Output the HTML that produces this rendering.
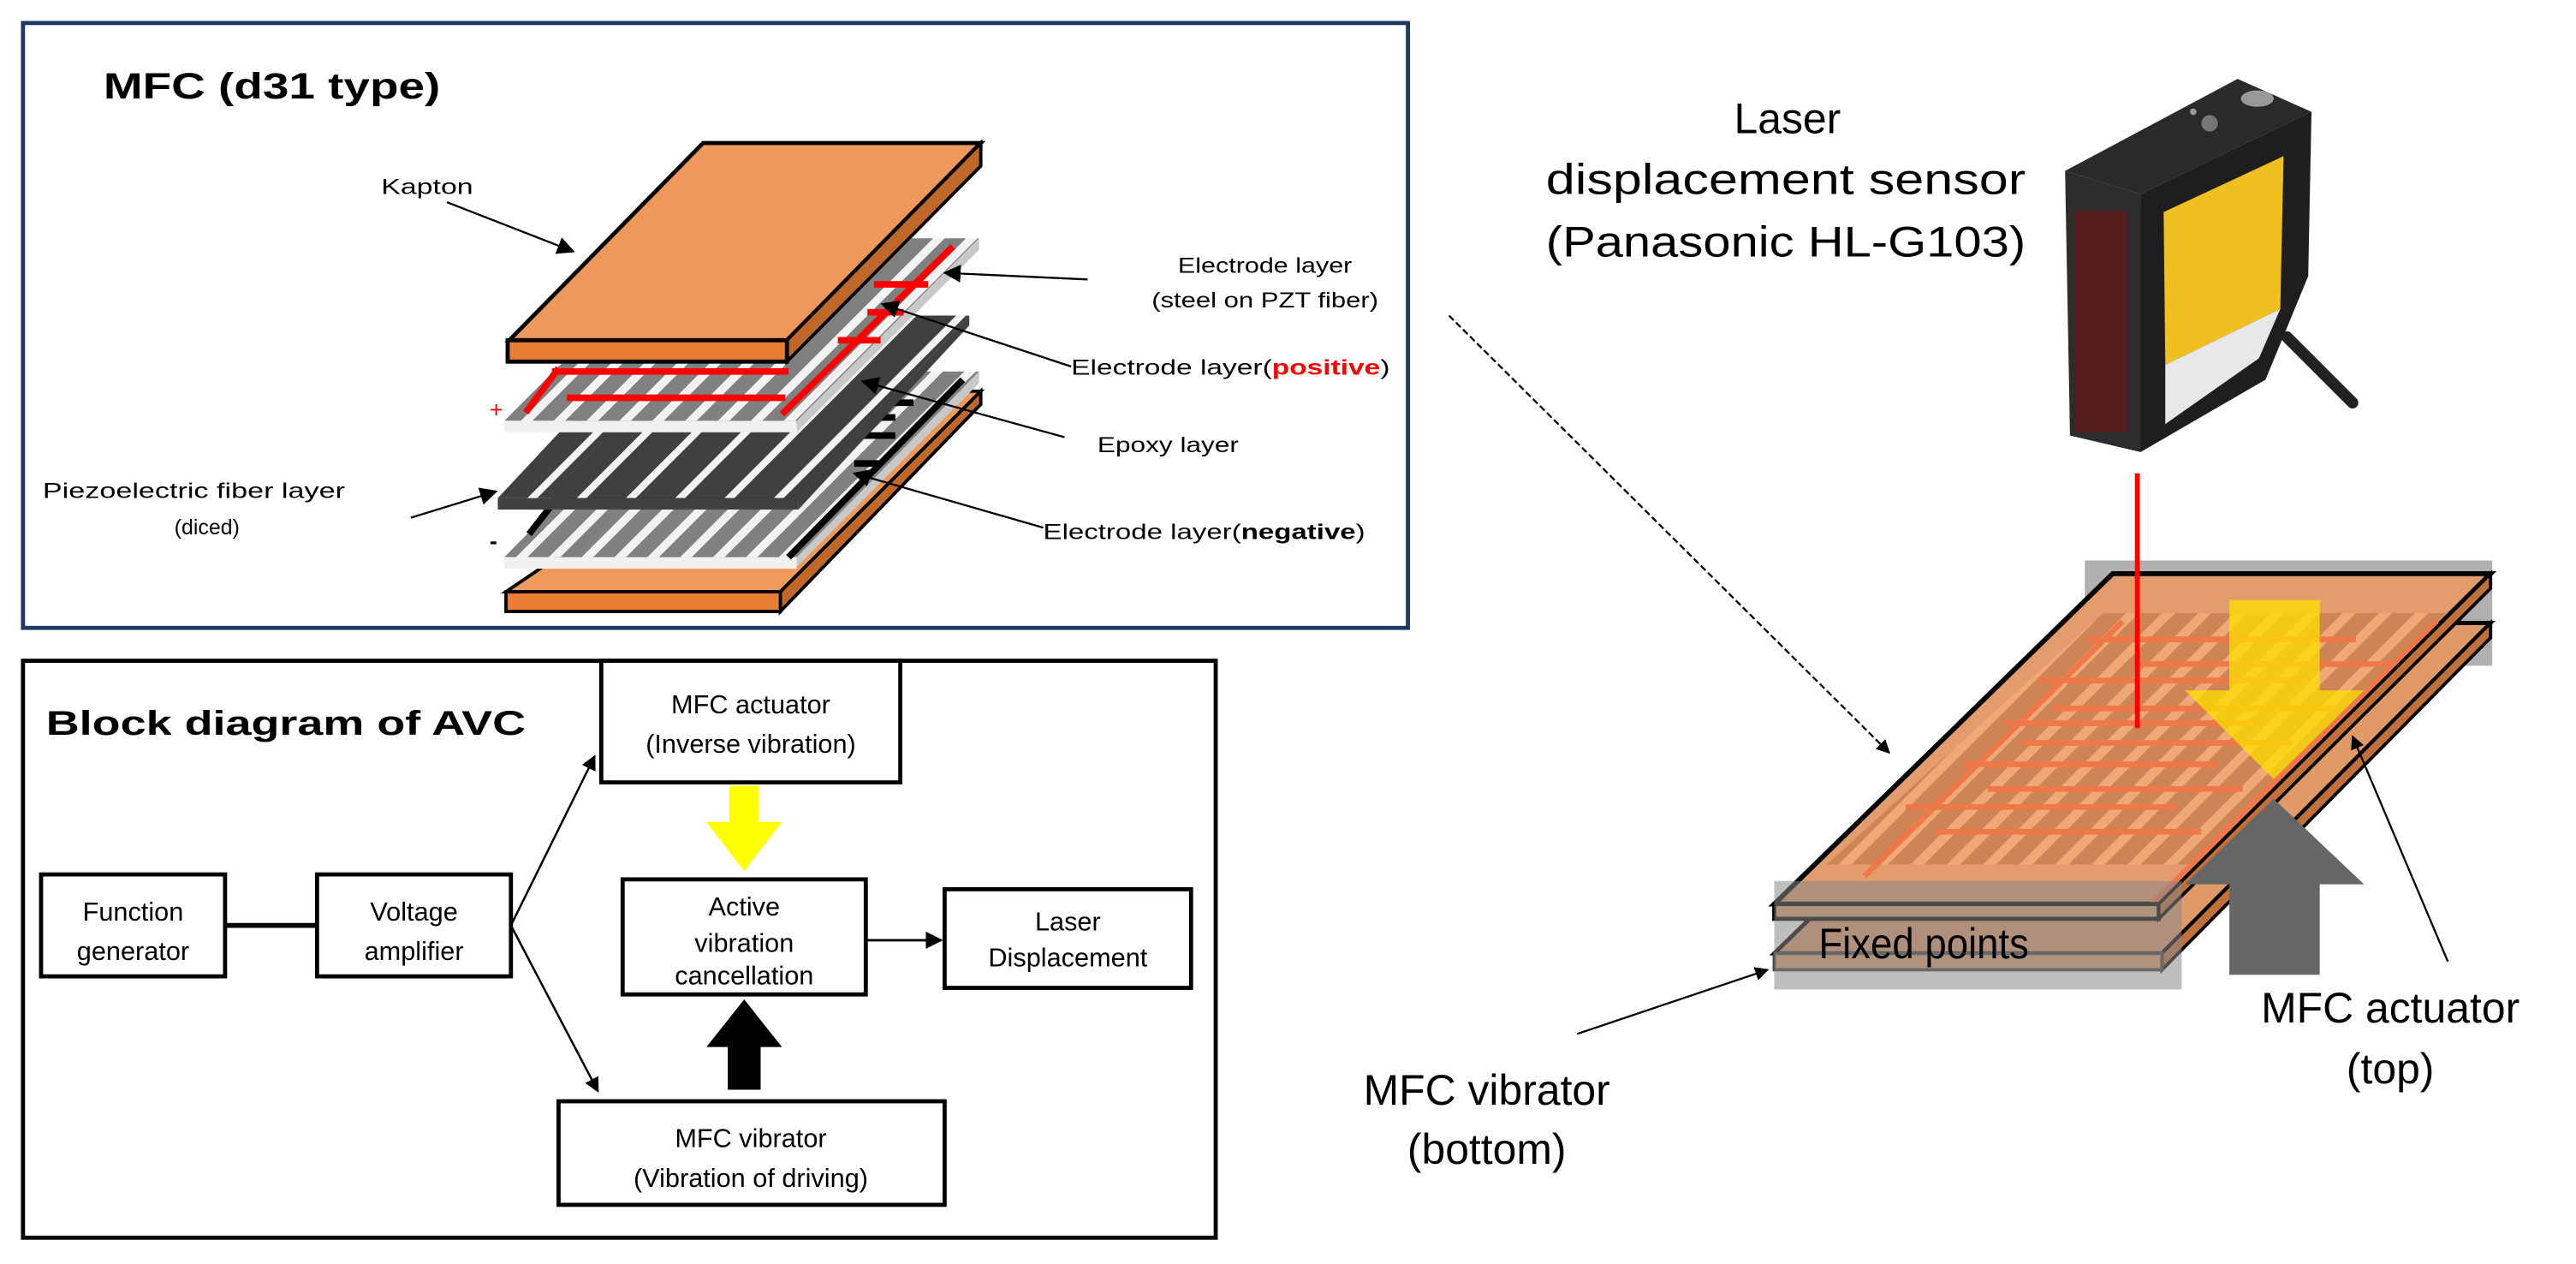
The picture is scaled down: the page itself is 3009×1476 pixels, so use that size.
<!DOCTYPE html>
<html><head><meta charset="utf-8"><style>
html,body{margin:0;padding:0;background:#fff;}
svg{display:block;}
text{font-family:"Liberation Sans","DejaVu Sans",sans-serif;}
</style></head><body>
<svg width="3009" height="1476" viewBox="0 0 1568 769" preserveAspectRatio="none" xmlns="http://www.w3.org/2000/svg">
<defs>
<pattern id="elec" width="20" height="40" patternUnits="userSpaceOnUse" patternTransform="skewX(-45)">
<rect width="20" height="40" fill="#f2f2f2"/><rect width="13" height="40" fill="#808080"/></pattern>
<pattern id="fib" width="30" height="40" patternUnits="userSpaceOnUse" patternTransform="skewX(-45)">
<rect width="30" height="40" fill="#f2f2f2"/><rect width="24" height="40" fill="#404040"/></pattern>
<pattern id="pl" width="22" height="40" patternUnits="userSpaceOnUse" patternTransform="skewX(-45) translate(3,0)">
<rect width="22" height="40" fill="#cd8455"/><rect x="14" width="8" height="40" fill="#f0aa78"/></pattern>
<marker id="ar" viewBox="0 0 10 10" refX="9" refY="5" markerWidth="7" markerHeight="7" orient="auto"><path d="M0,0L10,5L0,10z" fill="#000"/></marker>
<marker id="ars" viewBox="0 0 10 10" refX="9" refY="5" markerWidth="9" markerHeight="9" orient="auto"><path d="M0,0L10,5L0,10z" fill="#000"/></marker>
<filter id="glow" x="-5" y="-1" width="11" height="3"><feGaussianBlur stdDeviation="3"/></filter>
</defs>

<!-- TOP BOX -->
<rect x="14" y="14" width="843" height="368" fill="#fff" stroke="#1f3864" stroke-width="2.5"/>
<text x="63" y="60" font-size="22" font-weight="bold" textLength="205" lengthAdjust="spacingAndGlyphs">MFC  (d31 type)</text>

<!-- bottom kapton -->
<polygon points="488,238 597,238 475,360 308,360 " fill="#ee9a5c" stroke="#000" stroke-width="2"/>
<polygon points="597,238 597,246 475,372 475,360" fill="#c0682a" stroke="#000" stroke-width="2"/>
<rect x="308" y="360" width="167" height="12" fill="#ea7d33" stroke="#000" stroke-width="2"/>

<!-- negative electrode layer -->
<polygon points="418,226 596,226 485,339 307,339" fill="url(#elec)"/>
<polygon points="596,226 596,233 485,345 485,339" fill="#c8c8c8"/>
<rect x="307" y="339" width="178" height="7" fill="#f0f0f0"/>
<g stroke="#000" stroke-width="4" fill="none">
<polyline points="586,231 480,339"/>
<line x1="343" y1="304" x2="482" y2="304"/>
<line x1="343" y1="293" x2="478" y2="293"/>
<line x1="340" y1="302" x2="322" y2="325"/>
<line x1="505" y1="265" x2="545" y2="265"/><line x1="525" y1="245" x2="556" y2="245"/>
<line x1="520" y1="282" x2="535" y2="282"/><line x1="532" y1="254" x2="545" y2="254"/>
</g>
<text x="298" y="334" font-size="14" font-weight="bold">-</text>

<!-- fiber layer -->
<polygon points="407,192 590,192 486,303 303,303" fill="url(#fib)"/>
<polygon points="303,303 486,303 486,310 303,310" fill="#404040"/>
<polygon points="590,192 590,198 486,310 486,303" fill="#404040"/>

<!-- positive electrode layer -->
<polygon points="418,145 596,145 485,256 307,256" fill="url(#elec)"/>
<polygon points="596,145 596,152 485,263 485,256" fill="#c8c8c8"/>
<rect x="307" y="256" width="178" height="7" fill="#f0f0f0"/>
<g stroke="#ff0000" stroke-width="4" fill="none">
<line x1="580" y1="150" x2="476" y2="252"/>
<line x1="336" y1="226" x2="480" y2="226"/>
<line x1="345" y1="242" x2="478" y2="242"/>
<line x1="340" y1="224" x2="320" y2="251"/>
<line x1="528" y1="190" x2="550" y2="190"/>
<line x1="510" y1="207" x2="536" y2="207"/>
<line x1="532" y1="173" x2="565" y2="173"/>
</g>
<text x="298" y="254" font-size="14" fill="#ff0000">+</text>

<!-- top kapton -->
<polygon points="428,87 597,87 479,207 310,207" fill="#ee985c" stroke="#000" stroke-width="2.5"/>
<polygon points="597,87 597,101 479,220 479,207" fill="#c0682a" stroke="#000" stroke-width="2"/>
<rect x="309" y="207" width="170" height="13" fill="#ea7d33" stroke="#000" stroke-width="2.5"/>

<!-- labels top -->
<text x="232" y="118" font-size="13" textLength="56" lengthAdjust="spacingAndGlyphs">Kapton</text>
<line x1="272" y1="123" x2="349" y2="153" stroke="#000" stroke-width="1.2" marker-end="url(#ars)"/>
<text x="770" y="166" font-size="13" text-anchor="middle" textLength="106" lengthAdjust="spacingAndGlyphs">Electrode layer</text>
<text x="770" y="187" font-size="13" text-anchor="middle" textLength="138" lengthAdjust="spacingAndGlyphs">(steel on PZT fiber)</text>
<line x1="662" y1="170" x2="575" y2="166" stroke="#000" stroke-width="1.2" marker-end="url(#ars)"/>
<text x="652" y="228" font-size="13" textLength="194" lengthAdjust="spacingAndGlyphs">Electrode layer(<tspan fill="#ff0000" font-weight="bold">positive</tspan>)</text>
<line x1="652" y1="223" x2="537" y2="185" stroke="#000" stroke-width="1.2" marker-end="url(#ars)"/>
<text x="668" y="275" font-size="13" textLength="86" lengthAdjust="spacingAndGlyphs">Epoxy layer</text>
<line x1="648" y1="266" x2="525" y2="232" stroke="#000" stroke-width="1.2" marker-end="url(#ars)"/>
<text x="118" y="303" font-size="13" text-anchor="middle" textLength="184" lengthAdjust="spacingAndGlyphs">Piezoelectric fiber layer</text>
<text x="126" y="325" font-size="13" text-anchor="middle">(diced)</text>
<line x1="250" y1="315" x2="302" y2="299" stroke="#000" stroke-width="1.2" marker-end="url(#ars)"/>
<text x="635" y="328" font-size="13" textLength="196" lengthAdjust="spacingAndGlyphs">Electrode layer(<tspan font-weight="bold">negative</tspan>)</text>
<line x1="635" y1="321" x2="520" y2="288" stroke="#000" stroke-width="1.2" marker-end="url(#ars)"/>

<!-- BOTTOM BOX -->
<rect x="14" y="402" width="726" height="351" fill="#fff" stroke="#000" stroke-width="2.5"/>
<text x="28" y="447" font-size="21" font-weight="bold" textLength="292" lengthAdjust="spacingAndGlyphs">Block diagram  of AVC</text>
<g fill="#fff" stroke="#000" stroke-width="2.5">
<rect x="25" y="532" width="112" height="62"/>
<rect x="193" y="532" width="118" height="62"/>
<rect x="366" y="402" width="182" height="74"/>
<rect x="379" y="535" width="148" height="70"/>
<rect x="575" y="541" width="150" height="60"/>
<rect x="340" y="670" width="235" height="63"/>
</g>
<g font-size="16" text-anchor="middle">
<text x="81" y="560">Function</text><text x="81" y="584">generator</text>
<text x="252" y="560">Voltage</text><text x="252" y="584">amplifier</text>
<text x="457" y="434">MFC actuator</text><text x="457" y="458">(Inverse vibration)</text>
<text x="453" y="557">Active</text><text x="453" y="579">vibration</text><text x="453" y="599">cancellation</text>
<text x="650" y="566">Laser</text><text x="650" y="588">Displacement</text>
<text x="457" y="698">MFC vibrator</text><text x="457" y="722">(Vibration of driving)</text>
</g>
<line x1="137" y1="563" x2="193" y2="563" stroke="#000" stroke-width="3"/>
<line x1="311" y1="563" x2="362" y2="460" stroke="#000" stroke-width="1.3" marker-end="url(#ar)"/>
<line x1="311" y1="563" x2="364" y2="664" stroke="#000" stroke-width="1.3" marker-end="url(#ar)"/>
<line x1="527" y1="572" x2="573" y2="572" stroke="#000" stroke-width="1.5" marker-end="url(#ar)"/>
<polygon points="444,478 462,478 462,500 476,500 453,530 430,500 444,500" fill="#ffff00"/>
<polygon points="453,608 476,637 463,637 463,663 443,663 443,637 430,637" fill="#000"/>

<!-- RIGHT SIDE -->
<g font-size="26" text-anchor="middle">
<text x="1088" y="81">Laser</text>
<text x="1087" y="118" textLength="292" lengthAdjust="spacingAndGlyphs">displacement sensor</text>
<text x="1087" y="156" textLength="292" lengthAdjust="spacingAndGlyphs">(Panasonic HL-G103)</text>
</g>
<!-- sensor -->
<path d="M1392,205 L1432,245" stroke="#222" stroke-width="7" stroke-linecap="round"/>
<polygon points="1257,104 1362,48 1407,68 1303,118" fill="#2a2a2a"/>
<polygon points="1303,118 1407,68 1405,168 1379,231 1303,275" fill="#1e1e1e"/>
<polygon points="1257,104 1303,118 1303,275 1260,265" fill="#2c2c2c"/>
<rect x="1263" y="128" width="32" height="135" fill="#5a1c1c" opacity="0.9"/>
<polygon points="1317,129 1390,95 1388,188 1318,222" fill="#f0c020"/>
<polygon points="1318,222 1388,188 1375,218 1318,258" fill="#e8e8e8"/>
<circle cx="1345" cy="75" r="5" fill="#777"/><circle cx="1335" cy="68" r="2" fill="#999"/>
<ellipse cx="1374" cy="60" rx="10" ry="5" fill="#999"/>

<!-- plates -->
<polygon points="1269,341 1517,341 1517,405 1269,405" fill="#b0b0b0"/>
<polygon points="1286,379 1516,379 1316,580 1080,580" fill="#e09a68" stroke="#000" stroke-width="2.5"/>
<polygon points="1516,379 1516,388 1316,590 1316,580" fill="#c07038" stroke="#000" stroke-width="2"/>
<rect x="1080" y="580" width="236" height="10" fill="#e0a070" stroke="#444" stroke-width="2"/>
<polygon points="1286,349 1516,349 1314,550 1080,550" fill="#e39c6c" stroke="#000" stroke-width="3"/>
<polygon points="1280,373 1489,373 1335,526 1112,526" fill="url(#pl)" opacity="0.95"/>
<g stroke="#f07848" stroke-width="3.5">
<line x1="1270" y1="389" x2="1434" y2="389"/><line x1="1300" y1="404" x2="1460" y2="404"/>
<line x1="1240" y1="414" x2="1405" y2="414"/><line x1="1250" y1="431" x2="1420" y2="431"/>
<line x1="1220" y1="440" x2="1380" y2="440"/><line x1="1230" y1="452" x2="1395" y2="452"/>
<line x1="1195" y1="465" x2="1350" y2="465"/><line x1="1210" y1="480" x2="1365" y2="480"/>
<line x1="1160" y1="491" x2="1325" y2="491"/><line x1="1178" y1="506" x2="1340" y2="506"/>
<line x1="1292" y1="378" x2="1135" y2="533"/><line x1="1483" y1="378" x2="1305" y2="555"/>
</g>
<rect x="1080" y="550" width="234" height="9" fill="#e0a070" stroke="#000" stroke-width="2.5"/>
<polygon points="1516,349 1516,358 1314,559 1314,550" fill="#c07038" stroke="#000" stroke-width="2"/>
<rect x="1080" y="536" width="248" height="66" fill="#888" opacity="0.55"/>
<text x="1107" y="583" font-size="26" textLength="128" lengthAdjust="spacingAndGlyphs">Fixed points</text>
<line x1="1301" y1="288" x2="1301" y2="443" stroke="#ff3030" stroke-width="9" filter="url(#glow)" opacity="0.8"/>
<line x1="1301" y1="288" x2="1301" y2="443" stroke="#ff0000" stroke-width="3"/>
<polygon points="1357,365 1412,365 1412,420 1439,420 1384,474 1330,420 1357,420" fill="#ffe000" opacity="0.75"/>
<polygon points="1384,486 1439,538 1412,538 1412,593 1357,593 1357,538 1330,538" fill="#666"/>

<line x1="882" y1="192" x2="1150" y2="458" stroke="#000" stroke-width="1.2" stroke-dasharray="4,2" marker-end="url(#ar)"/>
<g font-size="26" text-anchor="middle">
<text x="905" y="672">MFC vibrator</text><text x="905" y="708">(bottom)</text>
<text x="1455" y="622">MFC actuator</text><text x="1455" y="659">(top)</text>
</g>
<line x1="960" y1="629" x2="1076" y2="590" stroke="#000" stroke-width="1.2" marker-end="url(#ar)"/>
<line x1="1490" y1="585" x2="1432" y2="448" stroke="#000" stroke-width="1.2" marker-end="url(#ar)"/>
</svg>
</body></html>
